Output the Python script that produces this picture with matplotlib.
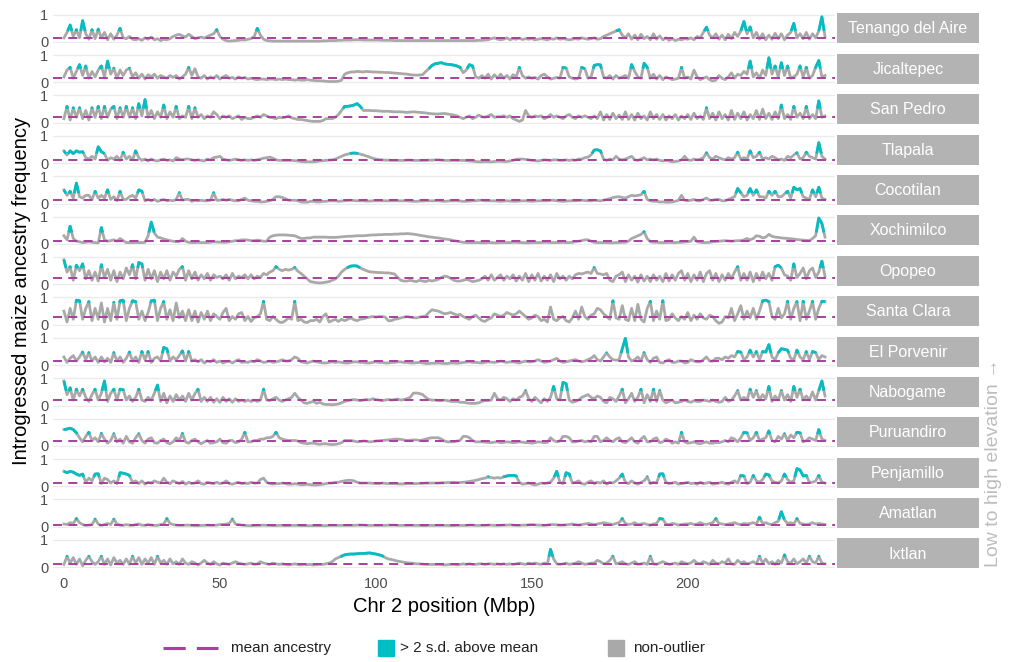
import numpy as np
import matplotlib
matplotlib.use("Agg")
import matplotlib.pyplot as plt
from matplotlib.lines import Line2D
from matplotlib.patches import Rectangle

plt.rcParams['font.family'] = ['Liberation Sans', 'DejaVu Sans']
plt.rcParams['lines.scale_dashes'] = False

# ---------------- data (ancestry in %, one value per Mbp from 0 Mbp) ----------------
populations = ["Tenango del Aire", "Jicaltepec", "San Pedro", "Tlapala", "Cocotilan",
               "Xochimilco", "Opopeo", "Santa Clara", "El Porvenir", "Nabogame",
               "Puruandiro", "Penjamillo", "Amatlan", "Ixtlan"]
mean_ancestry = [13, 16, 20, 11, 12, 10, 23, 29, 14, 19, 17, 13, 8, 13]
outlier_cut = [40, 50, 52, 35, 38, 42, 60, 80, 44, 54, 44, 34, 26, 38]
x_ticks = [0, 50, 100, 150, 200]

tenango = [15,35,62,20,45,15,78,30,10,45,12,47,15,35,8,30,10,25,50,15,
           12,20,10,8,12,6,15,10,18,8,12,5,10,8,12,20,25,28,22,18,
           28,20,12,15,18,14,20,25,30,45,20,10,5,3,4,5,6,8,7,10,
           12,20,50,25,10,5,4,3,3,3,3,3,3,3,3,3,3,3,3,3,
           3,3,3,4,4,5,5,5,6,6,7,7,7,8,8,8,7,7,7,7,
           7,7,6,6,6,6,5,5,5,5,5,5,5,5,5,5,5,5,5,5,
           5,5,5,5,5,5,5,5,5,5,5,5,5,6,6,7,8,12,15,10,
           8,10,15,8,12,10,14,9,12,10,12,8,10,12,10,8,12,10,15,10,
           12,10,8,10,12,10,15,12,10,12,15,10,12,20,25,30,35,40,45,25,
           15,30,10,25,8,28,12,20,8,30,10,22,8,15,6,12,5,10,8,12,
           10,15,8,20,15,35,54,25,15,30,10,25,8,28,12,35,20,40,75,30,
           55,15,35,10,30,8,25,10,32,12,30,8,25,35,68,15,30,12,35,10,
           30,15,40,92,20]
jicaltepec = [20,45,55,15,40,65,25,60,15,40,20,45,60,20,78,30,52,15,45,25,
              45,52,20,35,15,30,12,28,20,30,15,25,20,15,25,18,25,12,20,30,
              55,25,50,20,15,25,12,20,15,25,12,20,25,15,18,12,20,15,18,12,
              15,12,10,12,12,10,12,12,10,12,10,12,10,10,8,10,8,8,10,8,
              7,6,6,5,4,3,3,3,4,8,30,35,38,38,40,39,38,40,39,38,
              38,37,37,36,36,35,34,33,32,31,30,28,27,26,27,28,40,50,62,68,
              70,72,68,66,65,63,60,55,35,45,65,60,20,15,25,15,30,12,28,15,
              30,15,25,12,28,20,55,25,15,20,15,18,12,25,30,20,12,15,18,15,
              55,52,20,15,12,15,55,50,15,20,62,65,64,20,15,25,12,25,15,20,
              25,15,65,40,20,15,70,55,15,30,12,25,10,20,15,10,12,15,55,15,
              20,12,45,20,10,15,20,10,5,8,25,15,10,20,35,15,30,25,40,30,
              78,20,35,15,45,25,90,30,60,20,72,25,60,15,20,30,60,20,55,15,
              25,55,80,20,25]
san_pedro = [15,60,10,55,20,55,15,45,10,55,20,60,15,60,20,50,60,15,55,20,
             60,20,55,15,70,25,85,20,45,15,40,20,65,15,40,20,60,15,25,20,
             60,15,55,20,30,15,25,20,40,30,15,25,20,25,15,20,25,12,20,15,
             15,20,25,20,30,25,20,18,15,20,18,20,25,18,15,12,12,10,8,6,
             5,5,5,8,15,15,15,20,30,45,60,60,62,65,70,60,45,45,45,44,
             44,43,42,42,42,41,40,40,40,39,38,39,40,39,38,37,36,34,33,32,
             32,33,34,32,30,28,25,20,15,20,25,15,20,28,22,20,25,30,20,22,
             22,25,20,25,15,10,5,10,45,25,20,25,22,25,15,20,30,20,25,20,
             15,25,30,20,15,25,20,25,20,15,25,15,40,10,30,12,35,15,28,12,
             40,12,30,10,35,15,25,10,40,15,30,12,30,10,25,15,30,10,25,15,
             30,12,35,15,25,12,55,15,35,10,40,15,30,10,45,12,35,15,40,10,
             30,15,45,12,50,15,35,12,40,15,65,15,30,12,60,20,35,15,60,15,
             30,15,80,20,25]
tlapala = [45,30,45,35,45,40,42,20,15,25,15,60,42,35,10,20,15,25,10,40,
           15,25,12,45,20,10,15,8,15,10,8,12,15,10,12,8,20,15,12,15,
           15,12,10,12,10,8,15,12,20,22,25,15,12,10,12,15,12,10,12,10,
           12,10,12,15,18,20,22,18,12,10,10,10,10,10,9,8,6,5,5,5,
           5,6,8,9,10,11,12,15,20,25,30,33,36,37,36,33,30,26,22,18,
           15,13,12,11,11,10,10,10,10,10,11,11,10,10,10,10,10,11,11,12,
           12,11,10,10,10,10,10,10,10,9,8,7,6,5,5,6,5,5,6,7,
           7,6,6,8,10,14,15,15,14,12,10,9,8,10,12,11,10,12,12,10,
           10,12,10,12,10,15,15,20,22,30,48,49,45,15,10,15,12,25,15,12,
           15,20,25,12,10,15,20,12,15,12,15,10,8,10,8,5,6,8,12,25,
           12,10,15,12,15,20,38,20,15,25,20,15,12,20,15,20,40,15,20,15,
           45,20,25,40,15,20,15,25,20,12,15,10,25,20,30,38,15,20,40,25,
           20,15,75,25,15]
cocotilan = [50,30,45,20,75,25,20,30,30,15,45,20,30,20,50,15,25,10,45,15,
             15,25,30,20,50,45,10,15,10,15,8,12,15,10,12,10,15,40,12,15,
             15,8,12,10,12,10,10,12,40,12,12,15,12,15,12,10,10,15,20,12,
             10,8,8,6,6,8,10,15,25,25,22,18,12,12,12,10,6,5,5,8,
             8,6,6,8,8,10,10,10,8,9,10,11,12,11,10,10,10,9,9,10,
             10,10,10,10,10,10,10,10,10,10,10,9,8,8,9,9,10,10,10,10,
             10,9,8,9,10,10,10,9,8,8,9,10,10,12,12,10,10,10,10,9,
             8,9,10,9,8,8,9,10,10,9,8,9,10,10,10,10,12,12,10,9,
             8,9,10,10,10,11,12,11,10,10,12,11,10,12,15,18,22,24,25,22,
             20,25,30,28,30,32,45,15,10,8,8,6,6,5,5,6,8,12,30,12,
             10,12,15,10,10,15,20,12,12,15,15,10,10,15,20,25,55,40,25,30,
             55,30,50,25,25,20,45,30,45,25,25,35,45,20,60,50,55,25,20,15,
             50,25,60,20,15]
xochimilco = [30,15,65,20,10,8,5,6,8,6,5,4,60,15,10,12,15,10,20,12,
              5,5,5,5,5,5,6,30,80,40,25,22,18,15,12,10,8,8,20,10,
              6,5,5,6,5,5,5,6,8,7,7,6,6,8,10,12,12,15,15,14,
              12,12,14,12,10,10,25,30,32,33,33,33,32,31,30,25,20,20,22,22,
              25,25,25,25,25,24,24,24,25,26,27,28,28,29,30,30,30,31,32,33,
              33,34,34,35,35,35,36,36,37,37,38,37,36,34,32,30,28,26,25,23,
              22,20,18,17,15,12,10,8,6,5,5,5,5,5,4,4,5,5,4,4,
              5,5,5,5,6,6,5,5,4,4,5,5,5,5,6,6,5,5,5,5,
              6,5,5,6,8,10,12,15,15,10,6,5,5,5,5,4,4,5,5,6,
              6,10,20,25,30,35,45,20,8,6,6,5,5,5,6,5,5,6,6,7,
              8,10,25,8,6,5,5,6,8,9,10,11,12,11,10,11,12,12,15,20,
              15,20,30,28,22,25,35,28,25,24,22,21,20,19,18,16,15,14,13,12,
              20,30,95,75,25]
opopeo = [90,45,65,15,70,50,75,20,50,15,45,12,72,25,55,15,50,10,45,20,
          60,35,72,20,80,75,15,55,20,50,10,45,20,50,15,45,30,55,65,15,
          50,20,45,15,35,20,40,15,35,25,30,20,35,15,40,20,30,25,35,20,
          35,20,30,25,40,35,45,50,65,55,50,55,52,55,62,48,40,30,20,10,
          8,6,5,6,8,10,15,20,30,45,55,62,67,68,67,60,55,50,46,45,
          44,43,43,42,42,40,38,25,15,12,12,15,12,10,15,12,10,15,12,15,
          18,25,30,28,22,15,12,12,15,18,15,10,12,15,20,30,15,35,15,25,
          35,15,30,20,35,12,30,15,40,10,35,15,40,12,30,15,35,10,40,20,
          30,15,30,20,35,40,38,42,45,40,62,40,38,35,40,15,10,30,35,45,
          10,35,15,30,8,35,12,30,10,35,15,30,10,40,12,35,15,40,50,15,
          40,10,35,15,45,10,40,50,15,40,10,35,15,40,20,45,65,15,40,15,
          45,10,40,15,45,20,40,15,65,70,60,35,30,15,75,25,40,60,20,50,
          60,25,45,85,30]
santa_clara = [50,10,60,20,90,88,20,60,85,15,60,20,80,10,60,15,82,20,88,90,
               15,60,88,85,20,50,15,45,88,90,15,60,85,20,55,15,80,25,50,15,
               55,15,50,10,45,20,50,15,40,30,20,45,60,15,30,20,40,45,15,30,
               12,25,30,40,86,20,15,30,20,10,8,15,25,20,86,15,20,10,8,15,
               15,20,10,30,40,10,15,20,12,20,15,20,25,18,15,20,22,25,28,30,
               28,30,30,28,15,15,20,22,25,28,30,28,26,25,28,30,32,45,55,52,
               50,45,40,42,45,40,35,38,30,25,20,30,35,25,15,12,20,25,40,35,
               30,35,45,40,35,40,50,40,30,20,25,35,30,15,20,10,65,20,15,25,
               30,15,10,25,50,20,65,30,20,35,40,60,55,40,30,20,88,25,20,70,
               20,15,60,15,75,20,10,60,86,15,50,20,88,15,20,40,25,15,30,20,
               45,15,35,20,40,25,20,35,30,15,5,10,30,25,60,15,40,70,20,50,
               25,60,20,50,88,90,85,30,20,60,25,40,86,20,60,85,15,86,20,50,
               86,20,60,86,85]
el_porvenir = [30,10,25,35,15,30,48,20,46,15,30,10,30,12,25,10,46,15,30,10,
               25,48,15,30,10,50,20,50,10,25,30,15,65,60,15,30,20,35,52,15,
               50,15,20,12,20,8,15,12,20,10,15,8,12,15,8,15,20,10,12,10,
               15,12,20,15,10,12,15,10,12,15,20,15,15,20,30,25,12,10,8,12,
               15,12,10,8,8,10,12,10,12,10,8,8,10,12,12,10,10,8,8,10,
               12,10,10,8,8,10,10,12,12,10,10,8,8,9,10,8,6,6,7,7,
               8,7,6,6,8,8,7,8,10,11,12,10,10,9,8,10,12,11,10,12,
               15,12,10,12,12,10,8,12,15,12,12,15,20,15,10,12,15,20,25,15,
               10,12,15,18,20,15,12,15,20,25,35,20,15,30,45,30,20,18,20,60,
               98,30,15,20,30,15,46,20,10,25,30,10,8,15,20,10,10,15,15,8,
               10,20,15,12,12,20,30,15,15,25,25,20,30,25,35,30,50,48,20,30,
               55,30,50,20,50,48,75,30,20,45,60,58,55,25,20,55,30,20,50,20,
               50,46,20,35,30]
nabogame = [90,40,65,20,60,35,60,30,15,40,60,20,45,90,15,45,60,20,60,58,
            20,35,15,30,60,20,15,30,20,45,75,15,45,10,35,15,40,20,35,15,
            45,20,44,60,15,30,15,30,12,25,12,30,15,25,12,25,15,20,15,20,
            15,20,15,20,60,20,18,25,30,20,15,20,25,30,45,30,20,10,8,12,
            15,8,12,6,4,4,3,4,6,10,15,18,20,22,20,18,20,22,20,25,
            22,20,18,20,22,20,22,24,20,22,25,30,45,46,44,40,30,22,20,20,
            18,18,20,18,15,15,15,12,12,10,8,8,8,10,15,18,18,20,45,25,
            20,30,25,15,25,20,30,35,55,25,15,30,20,10,25,15,30,70,25,20,
            85,80,20,12,15,20,30,35,40,30,25,35,30,15,10,30,25,15,35,60,
            10,25,45,15,30,60,10,40,15,60,15,55,20,10,15,20,10,12,15,20,
            15,12,18,15,15,20,18,15,20,15,12,15,30,15,20,35,55,20,30,20,
            60,30,55,20,40,25,70,15,35,20,55,20,40,15,70,30,60,20,35,20,
            50,20,55,90,35]
puruandiro = [60,62,65,60,48,30,15,35,50,20,30,15,46,25,10,20,45,15,25,10,
              35,15,10,30,45,20,10,25,30,12,10,20,25,12,8,15,30,20,46,15,
              10,20,25,15,8,15,20,10,12,15,25,12,10,20,20,12,15,25,50,15,
              15,20,20,25,25,30,30,35,50,30,25,22,20,20,20,18,12,10,8,10,
              10,8,6,8,8,6,5,6,8,12,20,20,20,18,15,16,18,17,15,16,
              18,19,20,21,22,23,25,25,24,22,20,21,22,22,20,22,25,28,30,30,
              30,25,18,15,15,15,18,20,35,35,30,20,15,15,15,14,13,12,14,15,
              12,13,15,14,12,13,15,14,12,12,10,12,15,14,12,13,30,20,15,18,
              35,35,30,15,15,18,20,15,18,15,35,35,15,20,30,20,15,25,30,15,
              12,20,30,15,10,25,35,15,15,25,30,12,15,25,20,10,15,10,50,15,
              10,12,15,10,8,12,15,10,10,12,12,15,20,15,30,25,15,30,50,48,
              20,30,50,20,25,30,55,20,15,35,25,45,20,40,30,50,48,15,20,30,
              25,20,60,25,20]
penjamillo = [55,50,55,52,45,40,45,15,30,20,45,46,10,30,25,12,20,10,50,48,
              45,40,15,20,10,20,8,15,12,20,15,12,30,15,10,20,15,10,18,8,
              15,10,12,20,10,8,15,12,10,15,10,12,20,10,8,12,15,10,12,10,
              15,12,12,25,30,15,10,8,10,10,12,10,8,8,10,8,6,6,8,6,
              5,5,6,8,10,12,12,15,15,18,20,22,22,20,15,12,12,12,12,11,
              10,10,12,11,10,10,10,9,9,9,10,10,10,10,11,11,12,12,12,12,
              12,13,13,14,14,15,14,14,15,16,18,20,22,25,28,30,35,32,30,32,
              30,35,38,40,40,38,15,8,10,12,8,5,8,12,10,12,15,30,55,15,
              10,50,45,12,15,20,10,8,15,20,10,15,12,20,8,15,12,20,30,45,
              15,10,20,12,8,15,20,35,10,15,12,45,46,15,10,12,15,8,10,12,
              15,10,12,8,15,10,12,15,8,10,12,15,10,8,15,20,12,40,38,10,
              15,40,20,15,25,45,42,20,15,12,20,45,25,15,20,65,60,38,40,15,
              15,20,40,15,12]
amatlan = [10,8,15,12,30,15,8,5,6,8,28,10,5,8,12,8,28,10,6,5,
           8,6,5,8,10,6,5,8,6,5,5,8,10,30,12,8,6,5,5,6,
           6,5,4,4,5,5,6,5,5,6,8,8,10,12,28,10,8,6,5,4,
           4,4,5,5,6,5,5,4,4,5,5,4,4,5,5,5,4,4,4,4,
           4,4,4,4,4,5,5,5,5,5,5,5,5,5,6,6,6,5,5,5,
           5,5,5,5,6,6,6,5,5,5,5,5,5,5,5,4,4,5,5,5,
           5,5,5,5,4,4,5,5,5,5,6,6,5,5,5,5,6,6,5,5,
           5,6,6,7,6,5,5,6,6,7,8,7,6,6,5,6,8,8,7,6,
           6,7,8,10,8,6,8,10,12,10,8,10,12,15,12,10,8,12,15,30,
           12,8,10,15,8,10,12,8,6,10,12,30,28,10,8,12,10,6,8,10,
           10,12,8,10,15,10,8,12,15,30,12,10,8,10,12,15,10,8,12,10,
           12,15,10,35,12,15,10,8,15,20,55,25,12,15,10,30,12,10,8,10,
           15,10,12,10,8]
ixtlan = [10,40,15,35,10,30,5,25,40,20,10,20,40,10,30,8,35,15,25,10,
          30,10,40,15,35,10,30,15,35,10,40,15,25,10,30,12,20,10,30,15,
          10,20,15,8,15,25,15,10,20,12,8,15,12,10,15,20,15,12,10,12,
          15,10,12,20,15,12,10,15,12,10,12,10,8,10,12,10,8,10,9,10,
          8,9,10,10,12,15,20,30,35,40,45,47,48,48,49,50,50,51,52,50,
          48,45,42,35,30,28,25,22,20,18,16,15,14,12,12,11,10,10,10,10,
          10,9,8,9,10,10,8,10,12,10,12,10,10,12,12,10,12,12,10,12,
          10,12,10,12,10,12,15,12,10,15,12,15,12,10,15,12,65,30,12,10,
          12,15,10,12,15,20,15,10,12,15,15,25,20,12,15,25,40,12,15,20,
          12,10,15,20,10,12,15,10,40,12,10,15,20,15,10,12,15,10,20,15,
          12,15,25,15,12,20,15,10,25,15,12,20,15,30,12,10,25,15,20,12,
          15,20,12,40,15,30,12,20,10,25,15,45,20,15,30,12,20,30,15,40,
          20,15,40,15,12]

ancestry = [tenango, jicaltepec, san_pedro, tlapala, cocotilan, xochimilco, opopeo,
            santa_clara, el_porvenir, nabogame, puruandiro, penjamillo, amatlan, ixtlan]

# ---------------- style ----------------
GREY = '#A9A9A9'
TEAL = '#00BFC4'
MAGENTA = '#A8409D'
STRIP = '#B3B3B3'
GRID = '#EBEBEB'
TICKCOL = '#4D4D4D'

W, H = 1016, 662
fig = plt.figure(figsize=(W / 100, H / 100), dpi=100)


def fx(px):
    return px / W


def fy(py):
    return 1 - py / H


def above(x, y, thr):
    """Insert threshold crossings, mask the parts below threshold."""
    xs, ys = [x[0]], [y[0]]
    for i in range(1, len(x)):
        y0, y1 = y[i - 1], y[i]
        if (y0 - thr) * (y1 - thr) < 0:
            t = (thr - y0) / (y1 - y0)
            xs.append(x[i - 1] + t * (x[i] - x[i - 1]))
            ys.append(thr)
        xs.append(x[i])
        ys.append(y[i])
    xs = np.array(xs, float)
    ys = np.array(ys, float)
    ys[ys < thr - 1e-9] = np.nan
    return xs, ys


PL, PR = 53, 835
SL, SR = 837, 979
TOP0, STEP, PH = 13.3, 40.4, 30.0

n = len(populations)
for k, name in enumerate(populations):
    top = TOP0 + STEP * k
    ax = fig.add_axes([fx(PL), fy(top + PH), fx(PR) - fx(PL), PH / H])
    vals = np.array(ancestry[k], float) / 100.0
    pos = np.arange(len(vals), dtype=float)
    thr = outlier_cut[k] / 100.0
    ax.plot(pos, vals, color=GREY, lw=2.0, solid_joinstyle='round', zorder=2)
    tx, ty = above(pos, vals, thr)
    ax.plot(tx, ty, color=TEAL, lw=2.0, solid_joinstyle='round', solid_capstyle='butt', zorder=3)
    ax.axhline(mean_ancestry[k] / 100.0, color=MAGENTA, lw=1.4, dashes=(6.5, 4.5), zorder=4)
    ax.set_xlim(-3.5, 247.2)
    ax.set_ylim(-0.05, 1.05)
    ax.set_yticks([0, 1])
    ax.set_yticklabels(['0', '1'])
    ax.set_xticks(x_ticks)
    ax.grid(axis='y', color=GRID, lw=1.0)
    ax.grid(axis='x', visible=False)
    ax.set_axisbelow(True)
    ax.patch.set_alpha(0)
    for s in ax.spines.values():
        s.set_visible(False)
    ax.tick_params(axis='both', length=0, labelsize=10.5, labelcolor=TICKCOL)
    ax.tick_params(axis='y', pad=3.5)
    ax.tick_params(axis='x', pad=6, labelbottom=(k == n - 1))

    sax = fig.add_axes([fx(SL), fy(top + PH), fx(SR) - fx(SL), PH / H])
    sax.set_facecolor(STRIP)
    sax.set_xticks([])
    sax.set_yticks([])
    for s in sax.spines.values():
        s.set_visible(False)
    sax.text(0.5, 0.48, name, ha='center', va='center', color='white', fontsize=11.5,
             transform=sax.transAxes)

# axis titles
fig.text(fx(22), fy(291), 'Introgressed maize ancestry frequency', rotation=90,
         ha='center', va='center', fontsize=14.5, color='black')
fig.text(fx(444), fy(607), 'Chr 2 position (Mbp)', ha='center', va='center',
         fontsize=14.5, color='black')
fig.text(fx(993), fy(463), 'Low to high elevation \u2192', rotation=90,
         ha='center', va='center', fontsize=14, color='#BDBDBD')

# legend (manual)
ly = fy(648)
fig.add_artist(Line2D([fx(163), fx(218)], [ly, ly], color=MAGENTA, lw=2.2,
                      dashes=(16, 8), transform=fig.transFigure))
fig.text(fx(231), ly, 'mean ancestry', ha='left', va='center', fontsize=11, color='#222222')
fig.add_artist(Rectangle((fx(378), fy(656)), 16 / W, 16 / H, color=TEAL,
                         transform=fig.transFigure))
fig.text(fx(400), ly, '> 2 s.d. above mean', ha='left', va='center', fontsize=11, color='#222222')
fig.add_artist(Rectangle((fx(608), fy(656)), 16 / W, 16 / H, color=GREY,
                         transform=fig.transFigure))
fig.text(fx(633), ly, 'non-outlier', ha='left', va='center', fontsize=11, color='#222222')

fig.savefig('out.png', dpi=100)
